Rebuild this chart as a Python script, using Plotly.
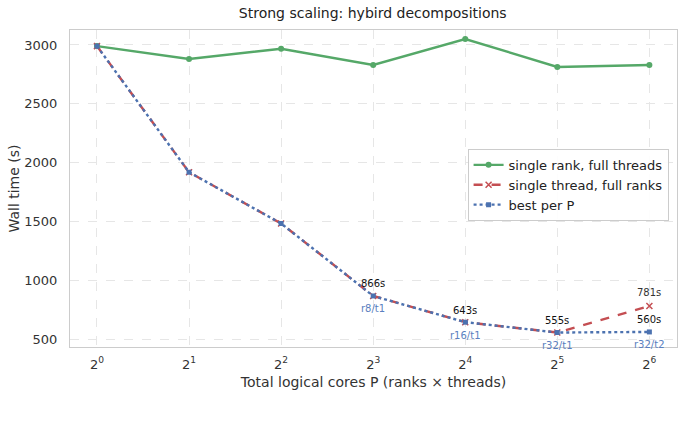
import math
import plotly.graph_objects as go

P = [1, 2, 4, 8, 16, 32, 64]
single_rank = [2990, 2880, 2968, 2830, 3050, 2813, 2830]
single_thread = [2990, 1918, 1482, 866, 643, 555, 781]
best_per_p = [2990, 1918, 1482, 866, 643, 555, 560]
best_labels = ["r1/t1", "r2/t1", "r4/t1", "r8/t1", "r16/t1", "r32/t1", "r32/t2"]
tick_text = ["2<sup>%d</sup>" % k for k in range(7)]

GREEN = "#55A868"
RED = "#C44E52"
BLUE = "#4C72B0"

fig = go.Figure()
fig.add_trace(go.Scatter(x=P, y=single_rank, mode="lines+markers",
                         name="single rank, full threads",
                         line=dict(color=GREEN, width=2.4),
                         marker=dict(symbol="circle", size=6, color=GREEN)))
fig.add_trace(go.Scatter(x=P, y=single_thread, mode="lines+markers",
                         name="single thread, full ranks",
                         line=dict(color=RED, width=2.4, dash="dash"),
                         marker=dict(symbol="x-thin", size=6, color=RED,
                                     line=dict(color=RED, width=1.5))))
fig.add_trace(go.Scatter(x=P, y=best_per_p, mode="lines+markers",
                         name="best per P",
                         line=dict(color=BLUE, width=2.4, dash="dot"),
                         marker=dict(symbol="square", size=5, color=BLUE)))

ann = []
for i, p in enumerate(P):
    if p < 8:
        continue
    ann.append(dict(x=math.log10(p), y=best_per_p[i], xref="x", yref="y",
                    text="%ds" % best_per_p[i], showarrow=False, yshift=12,
                    font=dict(size=10, color="#111111")))
    ann.append(dict(x=math.log10(p), y=best_per_p[i], xref="x", yref="y",
                    text=best_labels[i], showarrow=False, yshift=-13,
                    font=dict(size=10, color="#5A7FC0")))
ann.append(dict(x=math.log10(64), y=single_thread[6], xref="x", yref="y",
                text="%ds" % single_thread[6], showarrow=False, yshift=13,
                font=dict(size=10, color="#333333")))

l2 = math.log10(2)
fig.update_layout(
    width=684, height=430,
    margin=dict(l=70, r=7, t=30, b=83),
    paper_bgcolor="white", plot_bgcolor="white",
    font=dict(family="DejaVu Sans", size=13, color="#333333"),
    title=dict(text="Strong scaling: hybird decompositions", x=0.545, xanchor="center",
               y=0.97, yanchor="middle", font=dict(size=14, color="#222222")),
    xaxis=dict(type="log", range=[-0.293 * l2, 6.30 * l2],
               tickvals=P, ticktext=tick_text, tickfont=dict(size=13),
               ticklabelstandoff=5,
               showgrid=True, gridcolor="#e6e6e6", griddash="dash", gridwidth=1,
               showline=True, linecolor="#cccccc", linewidth=1, mirror=True,
               zeroline=False, ticks="",
               title=dict(text="Total logical cores P (ranks \u00d7 threads)",
                          font=dict(size=14), standoff=6)),
    yaxis=dict(range=[432, 3127], tickvals=[500, 1000, 1500, 2000, 2500, 3000],
               tickfont=dict(size=13), ticklabelstandoff=9,
               showgrid=True, gridcolor="#e6e6e6", griddash="dash", gridwidth=1,
               showline=True, linecolor="#cccccc", linewidth=1, mirror=True,
               zeroline=False, ticks="",
               title=dict(text="Wall time (s)", font=dict(size=14), standoff=1)),
    legend=dict(x=0.655, y=0.625, xanchor="left", yanchor="top",
                bgcolor="rgba(255,255,255,0.9)", bordercolor="#cccccc", borderwidth=1,
                font=dict(size=13, color="#222222"), tracegroupgap=0,
                itemwidth=30),
    annotations=ann,
    showlegend=True,
)

fig.write_html("out.html")
